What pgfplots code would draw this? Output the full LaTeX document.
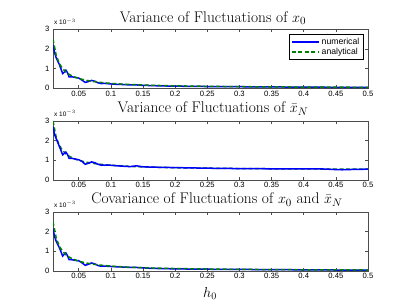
\documentclass[border=0pt]{standalone}
\usepackage{fontspec}
\setsansfont{Liberation Sans}
\usepackage{pgfplots}
\pgfplotsset{compat=1.18}
\definecolor{mblue}{RGB}{0,0,255}
\definecolor{mgreen}{RGB}{0,128,0}
\pgfplotstableread{
h num
0.010 2.20
0.0125 1.80
0.015 1.55
0.020 1.20
0.025 0.75
0.0275 0.82
0.030 0.92
0.0325 0.80
0.035 0.58
0.040 0.58
0.045 0.55
0.050 0.52
0.055 0.42
0.060 0.30
0.065 0.34
0.070 0.40
0.075 0.36
0.080 0.28
0.085 0.24
0.090 0.25
0.100 0.22
0.110 0.20
0.120 0.19
0.130 0.17
0.140 0.17
0.150 0.15
0.160 0.14
0.180 0.12
0.200 0.11
0.220 0.10
0.250 0.09
0.300 0.08
0.350 0.07
0.400 0.06
0.450 0.05
0.500 0.05
}\numA
\pgfplotstableread{
h ana
0.010 2.50
0.015 1.67
0.020 1.25
0.025 1.00
0.030 0.83
0.035 0.71
0.040 0.625
0.045 0.556
0.050 0.50
0.060 0.417
0.070 0.357
0.080 0.3125
0.090 0.278
0.100 0.25
0.120 0.208
0.140 0.179
0.160 0.156
0.180 0.139
0.200 0.125
0.250 0.10
0.300 0.083
0.350 0.071
0.400 0.0625
0.450 0.0556
0.500 0.05
}\anaA
\pgfplotstableread{
h num
0.010 2.70
0.0125 2.30
0.015 2.10
0.020 1.70
0.025 1.28
0.0275 1.35
0.030 1.42
0.0325 1.30
0.035 1.10
0.040 1.10
0.045 1.06
0.050 1.03
0.055 0.95
0.060 0.80
0.065 0.85
0.070 0.92
0.075 0.88
0.080 0.80
0.085 0.75
0.090 0.76
0.100 0.75
0.110 0.72
0.120 0.70
0.130 0.68
0.140 0.72
0.150 0.67
0.170 0.65
0.200 0.63
0.250 0.60
0.300 0.58
0.350 0.57
0.400 0.57
0.430 0.56
0.450 0.53
0.460 0.52
0.480 0.54
0.500 0.55
}\numB
\pgfplotstableread{
h ana
0.010 3.00
0.015 2.17
0.020 1.75
0.025 1.50
0.030 1.33
0.035 1.21
0.040 1.125
0.045 1.056
0.050 1.00
0.060 0.917
0.070 0.857
0.080 0.8125
0.090 0.778
0.100 0.75
0.120 0.708
0.140 0.679
0.160 0.656
0.180 0.639
0.200 0.625
0.250 0.60
0.300 0.583
0.350 0.571
0.400 0.5625
0.450 0.5556
0.500 0.55
}\anaB
\pgfplotstableread{
h num
0.010 2.15
0.0125 1.75
0.015 1.50
0.020 1.18
0.025 0.76
0.0275 0.85
0.030 0.92
0.0325 0.78
0.035 0.58
0.040 0.57
0.045 0.54
0.050 0.52
0.055 0.42
0.060 0.29
0.065 0.34
0.070 0.41
0.075 0.36
0.080 0.28
0.085 0.24
0.090 0.25
0.100 0.23
0.110 0.21
0.120 0.20
0.130 0.18
0.140 0.18
0.150 0.16
0.160 0.14
0.180 0.12
0.200 0.11
0.220 0.10
0.250 0.09
0.300 0.08
0.350 0.07
0.400 0.06
0.450 0.05
0.500 0.05
}\numC
\pgfplotsset{
  mstyle/.style={
    scale only axis, width=315bp, height=59bp,
    xmin=0.01, xmax=0.5, ymin=0, ymax=3,
    xtick={0.05,0.1,0.15,0.2,0.25,0.3,0.35,0.4,0.45,0.5},
    xticklabels={0.05,0.1,0.15,0.2,0.25,0.3,0.35,0.4,0.45,0.5},
    ytick={0,1,2,3},
    yticklabels={0,1,2,3},
    tick align=inside, tick pos=both,
    major tick length=3bp,
    tick label style={font=\sffamily\fontsize{7.7}{8}\selectfont},
    xticklabel style={yshift=1bp},
    axis line style={gray!60!black, line width=0.6bp},
    every tick/.style={gray!60!black, line width=0.5bp},
    anchor=south west,
  },
  numst/.style={mblue, line width=1.5bp, no marks},
  anast/.style={mgreen, line width=1.5bp, dashed, dash pattern=on 4bp off 2.5bp, no marks},
}
\tikzset{ttl/.style={font=\fontsize{15.5}{16}\selectfont, anchor=base, inner sep=0pt}}
\begin{document}
\begin{tikzpicture}
\useasboundingbox (0bp,0bp) rectangle (407bp,306bp);
\begin{axis}[mstyle, at={(53bp,217.7bp)},
  legend style={at={(1,1)}, anchor=north east, xshift=-5bp, yshift=-5bp,
    font=\sffamily\fontsize{8.7}{9}\selectfont,
    draw=black, line width=0.5bp, inner sep=1.5bp, row sep=-1.5bp},
  legend image code/.code={\draw[#1] (0bp,0bp) -- (27bp,0bp);},
  legend cell align=left]
\addplot[numst] table[x=h,y=num] {\numA};
\addlegendentry{numerical}
\addplot[anast] table[x=h,y=ana] {\anaA};
\addlegendentry{analytical}
\end{axis}
\node[ttl] at (213bp,283.5bp) {Variance of Fluctuations of $x_0$};
\node[font=\sffamily\fontsize{6.5}{7}\selectfont, anchor=south west, inner sep=0] at (54bp,281bp) {x 10$^{-3}$};
\begin{axis}[mstyle, at={(53bp,126bp)}]
\addplot[anast] table[x=h,y=ana] {\anaB};
\addplot[numst] table[x=h,y=num] {\numB};
\end{axis}
\node[ttl] at (213bp,193.3bp) {Variance of Fluctuations of $\bar{x}_N$};
\node[font=\sffamily\fontsize{6.5}{7}\selectfont, anchor=south west, inner sep=0] at (54bp,189.5bp) {x 10$^{-3}$};
\begin{axis}[mstyle, at={(53bp,35bp)}]
\addplot[numst] table[x=h,y=num] {\numC};
\addplot[anast] table[x=h,y=ana] {\anaA};
\end{axis}
\node[ttl] at (217bp,102bp) {Covariance of Fluctuations of $x_0$ and $\bar{x}_N$};
\node[font=\sffamily\fontsize{6.5}{7}\selectfont, anchor=south west, inner sep=0] at (54bp,98.5bp) {x 10$^{-3}$};
\node[font=\fontsize{14.5}{15}\selectfont, anchor=base] at (210bp,9bp) {$h_0$};
\end{tikzpicture}
\end{document}
